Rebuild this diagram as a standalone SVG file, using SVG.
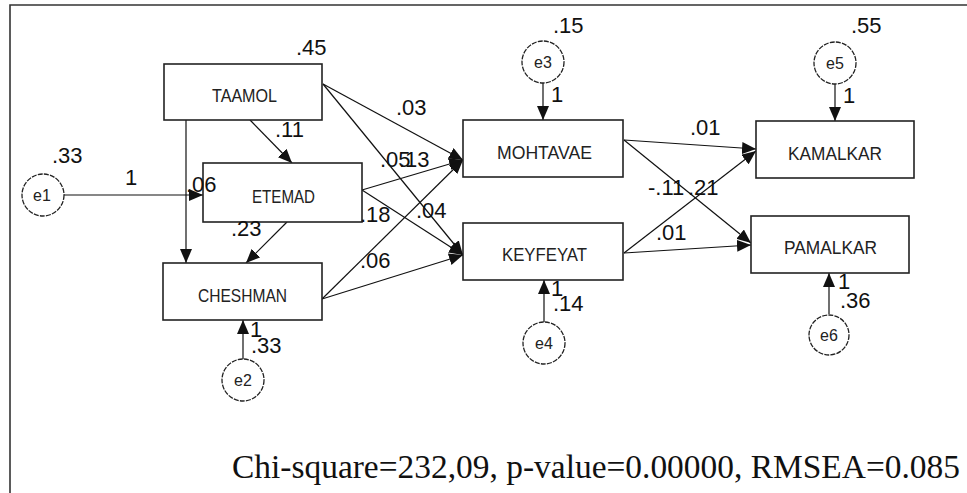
<svg xmlns="http://www.w3.org/2000/svg" width="967" height="493" viewBox="0 0 967 493">
<defs>
<marker id="ah" markerUnits="userSpaceOnUse" markerWidth="14" markerHeight="12" viewBox="0 0 14 12" refX="14" refY="6" orient="auto">
<path d="M0,0 L14,6 L0,12 z" fill="#111"/>
</marker>
<style>
.box{fill:#fff;stroke:#222;stroke-width:1.6}
.err{fill:#fff;stroke:#222;stroke-width:1.3;stroke-dasharray:5 1.2}
.nl{font-family:"Liberation Sans",Arial,sans-serif;font-size:19px;fill:#222;text-anchor:middle}
.el{font-family:"Liberation Sans",Arial,sans-serif;font-size:16px;fill:#222;text-anchor:middle}
.lb{font-family:"Liberation Sans",Arial,sans-serif;font-size:22px;fill:#111}
.ln{stroke:#111;stroke-width:1.2;fill:none;marker-end:url(#ah)}
.frame{stroke:#333;stroke-width:1.6;fill:none}
.fit{font-family:"Liberation Serif","Times New Roman",serif;font-size:33.5px;fill:#111}
</style>
</defs>
<rect width="967" height="493" fill="#fff"/>
<path class="frame" d="M10,493 L10,5 L967,5"/>

<g id="connectors">
<line class="ln" x1="64" y1="195" x2="203" y2="195"/>
<line class="ln" x1="186" y1="120" x2="186" y2="263"/>
<line class="ln" x1="250" y1="120" x2="292" y2="163"/>
<line class="ln" x1="287" y1="222" x2="246" y2="263"/>
<line class="ln" x1="243" y1="359" x2="243" y2="320"/>
<line class="ln" x1="323" y1="84" x2="463" y2="160"/>
<line class="ln" x1="323" y1="84" x2="463" y2="255"/>
<line class="ln" x1="362" y1="190" x2="463" y2="160"/>
<line class="ln" x1="362" y1="190" x2="463" y2="255"/>
<line class="ln" x1="322" y1="299" x2="463" y2="160"/>
<line class="ln" x1="322" y1="299" x2="463" y2="255"/>
<line class="ln" x1="543" y1="83" x2="543" y2="120"/>
<line class="ln" x1="544" y1="322" x2="544" y2="280"/>
<line class="ln" x1="624" y1="140" x2="756" y2="149"/>
<line class="ln" x1="624" y1="140" x2="751" y2="243"/>
<line class="ln" x1="624" y1="253" x2="756" y2="151"/>
<line class="ln" x1="624" y1="253" x2="751" y2="245"/>
<line class="ln" x1="835" y1="84" x2="835" y2="121"/>
<line class="ln" x1="829" y1="314" x2="829" y2="273"/>
</g>

<g id="TAAMOL"><rect class="box" x="164" y="64" width="158" height="56"/><text class="nl" x="244.5" y="102" textLength="65" lengthAdjust="spacingAndGlyphs">TAAMOL</text></g>
<g id="ETEMAD"><rect class="box" x="203" y="163" width="159" height="59"/><text class="nl" x="283.5" y="203" textLength="63" lengthAdjust="spacingAndGlyphs">ETEMAD</text></g>
<g id="CHESHMAN"><rect class="box" x="163" y="263" width="159" height="57"/><text class="nl" x="242.5" y="302" textLength="89" lengthAdjust="spacingAndGlyphs">CHESHMAN</text></g>
<g id="MOHTAVAE"><rect class="box" x="463" y="120" width="160" height="57"/><text class="nl" x="544.5" y="159" textLength="95" lengthAdjust="spacingAndGlyphs">MOHTAVAE</text></g>
<g id="KEYFEYAT"><rect class="box" x="463" y="223" width="160" height="57"/><text class="nl" x="544.5" y="261" textLength="85" lengthAdjust="spacingAndGlyphs">KEYFEYAT</text></g>
<g id="KAMALKAR"><rect class="box" x="756" y="121" width="158" height="57"/><text class="nl" x="835" y="160" textLength="94" lengthAdjust="spacingAndGlyphs">KAMALKAR</text></g>
<g id="PAMALKAR"><rect class="box" x="751" y="216" width="158" height="57"/><text class="nl" x="830.5" y="254" textLength="93" lengthAdjust="spacingAndGlyphs">PAMALKAR</text></g>

<g id="e1"><circle class="err" cx="43" cy="195" r="21"/><text class="el" x="42" y="201">e1</text></g>
<g id="e2"><circle class="err" cx="243" cy="380" r="21"/><text class="el" x="243" y="386">e2</text></g>
<g id="e3"><circle class="err" cx="543" cy="62" r="21"/><text class="el" x="543" y="68">e3</text></g>
<g id="e4"><circle class="err" cx="544" cy="343" r="21"/><text class="el" x="544" y="349">e4</text></g>
<g id="e5"><circle class="err" cx="835" cy="63" r="21"/><text class="el" x="835" y="69">e5</text></g>
<g id="e6"><circle class="err" cx="829" cy="335" r="20"/><text class="el" x="829" y="341">e6</text></g>

<g id="labels">
<text class="lb" x="296" y="55">.45</text>
<text class="lb" x="52" y="163">.33</text>
<text class="lb" x="125" y="185">1</text>
<text class="lb" x="186" y="192">.06</text>
<text class="lb" x="275" y="137">.11</text>
<text class="lb" x="231" y="236">.23</text>
<text class="lb" x="250" y="337">1</text>
<text class="lb" x="251" y="353">.33</text>
<text class="lb" x="396" y="115">.03</text>
<text class="lb" x="380" y="167">.05</text>
<text class="lb" x="399" y="167">.13</text>
<text class="lb" x="360" y="222">.18</text>
<text class="lb" x="416" y="218">.04</text>
<text class="lb" x="360" y="268">.06</text>
<text class="lb" x="553" y="33">.15</text>
<text class="lb" x="551" y="102">1</text>
<text class="lb" x="690" y="135">.01</text>
<text class="lb" x="648" y="195">-.11</text>
<text class="lb" x="688" y="195">.21</text>
<text class="lb" x="656" y="240">.01</text>
<text class="lb" x="551" y="296">1</text>
<text class="lb" x="553" y="311">.14</text>
<text class="lb" x="851" y="33">.55</text>
<text class="lb" x="843" y="103">1</text>
<text class="lb" x="838" y="289">1</text>
<text class="lb" x="840" y="308">.36</text>
</g>

<text class="fit" x="232" y="478" textLength="728" lengthAdjust="spacingAndGlyphs">Chi-square=232,09, p-value=0.00000, RMSEA=0.085</text>
</svg>
